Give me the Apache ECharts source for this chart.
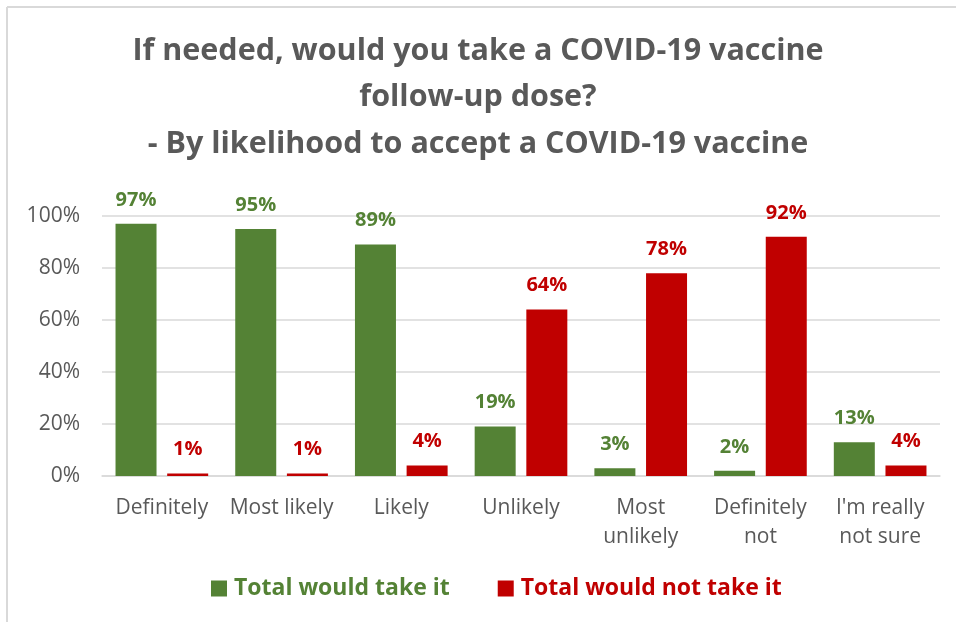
<!DOCTYPE html>
<html>
<head>
<meta charset="utf-8">
<script src="https://cdn.jsdelivr.net/npm/echarts@6/dist/echarts.min.js"></script>
<style>html,body{margin:0;padding:0;background:#fff}#c{width:956px;height:622px}</style>
</head>
<body>
<div id="c"></div>
<script>
const titleLines = ['If needed, would you take a COVID-19 vaccine', 'follow-up dose?', '- By likelihood to accept a COVID-19 vaccine'];
const categories = ['Definitely', 'Most likely', 'Likely', 'Unlikely', 'Most\nunlikely', 'Definitely\nnot', "I'm really\nnot sure"];
const seriesNames = ['Total would take it', 'Total would not take it'];
const wouldTake = [97, 95, 89, 19, 3, 2, 13];
const wouldNotTake = [1, 1, 4, 64, 78, 92, 4];
const yTicks = [0, 20, 40, 60, 80, 100];

const GREEN = '#548235', RED = '#C00000', GRAY = '#595959', LINE = '#d9d9d9';
const FONT = '"Open Sans", sans-serif';

const chart = echarts.init(document.getElementById('c'), null, {renderer: 'canvas'});
const labelStyle = (color) => ({
  show: true, position: 'top', distance: 14,
  formatter: p => p.value + '%',
  color: color, fontFamily: FONT, fontWeight: 'bold', fontSize: 20
});
chart.setOption({
  animation: false,
  backgroundColor: '#fff',
  title: {
    text: titleLines.join('\n'),
    left: 'center', top: 23,
    textStyle: {fontFamily: FONT, fontWeight: 'bold', fontSize: 30.5, color: GRAY, lineHeight: 46.5}
  },
  graphic: [
    {type: 'line', shape: {x1: 7, y1: 7, x2: 956, y2: 7}, style: {stroke: LINE, lineWidth: 2}, silent: true},
    {type: 'line', shape: {x1: 7, y1: 7, x2: 7, y2: 622}, style: {stroke: LINE, lineWidth: 2}, silent: true}
  ],
  legend: {
    bottom: 17, left: 206,
    icon: 'rect', itemWidth: 16, itemHeight: 16, itemGap: 48,
    textStyle: {fontFamily: FONT, fontWeight: 'bold', fontSize: 23, padding: [0, 0, 0, 2]},
    data: [
      {name: seriesNames[0], textStyle: {color: GREEN}},
      {name: seriesNames[1], textStyle: {color: RED}}
    ]
  },
  grid: {left: 102, right: 16, top: 216, bottom: 146},
  xAxis: {
    type: 'category', data: categories,
    axisLine: {lineStyle: {color: LINE, width: 1.5}},
    axisTick: {show: false},
    axisLabel: {interval: 0, margin: 18, color: GRAY, fontFamily: FONT, fontSize: 21, lineHeight: 29}
  },
  yAxis: {
    type: 'value', min: yTicks[0], max: yTicks[yTicks.length - 1], interval: yTicks[1] - yTicks[0],
    axisLine: {show: false}, axisTick: {show: false},
    splitLine: {lineStyle: {color: LINE, width: 1.5}},
    axisLabel: {formatter: '{value}%', margin: 22, color: GRAY, fontFamily: FONT, fontSize: 21}
  },
  series: [
    {name: seriesNames[0], type: 'bar', data: wouldTake, barWidth: 41, barGap: '26%',
     itemStyle: {color: GREEN}, label: labelStyle(GREEN)},
    {name: seriesNames[1], type: 'bar', data: wouldNotTake, barWidth: 41,
     itemStyle: {color: RED}, label: labelStyle(RED)}
  ]
});
</script>
</body>
</html>
